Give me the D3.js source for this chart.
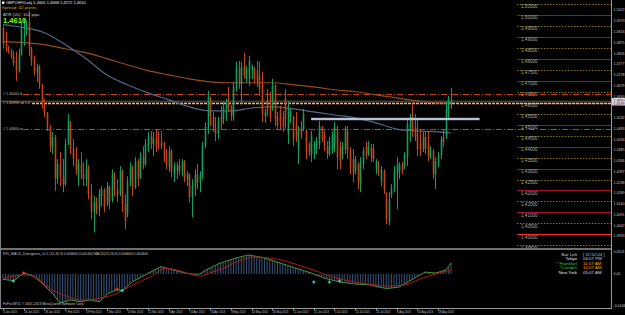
<!DOCTYPE html>
<html>
<head>
<meta charset="utf-8">
<script src="https://cdn.jsdelivr.net/npm/d3@7/dist/d3.min.js"></script>
<style>
  body { margin: 0; background: #000; }
  svg { display: block; }
  text { font-family: "Liberation Sans", Arial, sans-serif; }
</style>
</head>
<body>
<div id="chart"></div>
<script>
// GBPCHF daily bars from 4 Jan 2013
const barOpen = [
  1.4938,1.4869,1.4846,1.4833,1.4814,1.4791,1.4746,1.4823,1.4938,1.4947,
  1.4965,1.4846,1.4791,1.4737,1.4764,1.4681,1.4599,1.4553,1.4489,1.4398,
  1.4444,1.4252,1.4320,1.4261,1.4229,1.4412,1.4503,1.4389,1.4343,1.4261,
  1.4320,1.4274,1.4252,1.4297,1.4183,1.4101,1.4146,1.4114,1.4174,1.4206,
  1.4137,1.4215,1.4160,1.4274,1.4206,1.4183,1.4288,1.4137,1.4091,1.4242,
  1.4306,1.4215,1.4334,1.4261,1.4352,1.4320,1.4398,1.4448,1.4412,1.4444,
  1.4435,1.4421,1.4412,1.4352,1.4306,1.4380,1.4274,1.4288,1.4315,1.4288,
  1.4329,1.4252,1.4274,1.4169,1.4215,1.4274,1.4238,1.4270,1.4407,1.4480,
  1.4622,1.4535,1.4489,1.4457,1.4535,1.4526,1.4572,1.4618,1.4581,1.4535,
  1.4663,1.4755,1.4686,1.4773,1.4709,1.4709,1.4746,1.4755,1.4746,1.4718,
  1.4686,1.4535,1.4618,1.4572,1.4572,1.4677,1.4535,1.4563,1.4535,1.4618,
  1.4457,1.4535,1.4535,1.4503,1.4389,1.4480,1.4480,1.4471,1.4412,1.4366,
  1.4366,1.4389,1.4412,1.4489,1.4444,1.4398,1.4366,1.4389,1.4398,1.4480,
  1.4398,1.4366,1.4389,1.4471,1.4380,1.4343,1.4288,1.4320,1.4229,1.4320,
  1.4398,1.4366,1.4398,1.4389,1.4297,1.4320,1.4242,1.4288,1.4174,1.4059,
  1.4178,1.4206,1.4274,1.4288,1.4320,1.4306,1.4352,1.4489,1.4549,1.4489,
  1.4457,1.4412,1.4389,1.4444,1.4412,1.4352,1.4380,1.4274,1.4320,1.4361,
  1.4444,1.4448,1.4563,1.4600
];
const barHigh = [
  1.4951,1.4924,1.4860,1.4846,1.4837,1.4833,1.4846,1.4970,1.4984,1.4974,
  1.5020,1.4855,1.4814,1.4778,1.4773,1.4686,1.4618,1.4558,1.4499,1.4467,
  1.4453,1.4343,1.4375,1.4343,1.4435,1.4549,1.4517,1.4435,1.4398,1.4343,
  1.4375,1.4329,1.4343,1.4315,1.4229,1.4174,1.4169,1.4206,1.4220,1.4211,
  1.4238,1.4224,1.4297,1.4284,1.4252,1.4311,1.4297,1.4183,1.4265,1.4329,
  1.4315,1.4352,1.4343,1.4375,1.4402,1.4435,1.4467,1.4471,1.4467,1.4480,
  1.4471,1.4471,1.4421,1.4389,1.4402,1.4389,1.4329,1.4329,1.4343,1.4343,
  1.4338,1.4288,1.4279,1.4252,1.4297,1.4320,1.4288,1.4421,1.4512,1.4654,
  1.4627,1.4558,1.4535,1.4535,1.4585,1.4604,1.4618,1.4672,1.4590,1.4695,
  1.4787,1.4791,1.4787,1.4828,1.4768,1.4814,1.4773,1.4764,1.4791,1.4787,
  1.4741,1.4572,1.4663,1.4650,1.4709,1.4686,1.4558,1.4585,1.4563,1.4663,
  1.4608,1.4572,1.4540,1.4558,1.4494,1.4517,1.4572,1.4480,1.4421,1.4471,
  1.4425,1.4444,1.4517,1.4494,1.4471,1.4425,1.4444,1.4471,1.4512,1.4494,
  1.4425,1.4421,1.4494,1.4494,1.4398,1.4389,1.4357,1.4329,1.4352,1.4398,
  1.4421,1.4425,1.4412,1.4412,1.4343,1.4334,1.4311,1.4297,1.4192,1.4192,
  1.4229,1.4311,1.4352,1.4329,1.4329,1.4375,1.4526,1.4549,1.4595,1.4549,
  1.4526,1.4480,1.4467,1.4467,1.4467,1.4402,1.4389,1.4352,1.4375,1.4448,
  1.4480,1.4604,1.4631,1.4668
];
const barLow = [
  1.4846,1.4833,1.4823,1.4801,1.4768,1.4700,1.4737,1.4814,1.4860,1.4906,
  1.4814,1.4768,1.4723,1.4695,1.4663,1.4572,1.4535,1.4471,1.4375,1.4366,
  1.4197,1.4229,1.4220,1.4192,1.4220,1.4407,1.4366,1.4311,1.4274,1.4220,
  1.4252,1.4220,1.4220,1.4160,1.4069,1.4009,1.4091,1.4082,1.4128,1.4101,
  1.4128,1.4114,1.4146,1.4174,1.4146,1.4174,1.4101,1.4023,1.4078,1.4220,
  1.4174,1.4206,1.4220,1.4252,1.4297,1.4311,1.4375,1.4389,1.4357,1.4375,
  1.4389,1.4389,1.4329,1.4297,1.4284,1.4261,1.4238,1.4252,1.4270,1.4265,
  1.4238,1.4220,1.4146,1.4078,1.4174,1.4206,1.4192,1.4252,1.4393,1.4457,
  1.4494,1.4467,1.4425,1.4435,1.4480,1.4503,1.4517,1.4558,1.4517,1.4517,
  1.4650,1.4663,1.4595,1.4709,1.4691,1.4677,1.4709,1.4686,1.4672,1.4631,
  1.4512,1.4508,1.4540,1.4512,1.4563,1.4494,1.4480,1.4480,1.4467,1.4480,
  1.4412,1.4508,1.4402,1.4421,1.4320,1.4435,1.4471,1.4343,1.4357,1.4329,
  1.4343,1.4366,1.4389,1.4421,1.4380,1.4343,1.4357,1.4366,1.4375,1.4297,
  1.4297,1.4343,1.4366,1.4343,1.4274,1.4238,1.4274,1.4206,1.4192,1.4297,
  1.4343,1.4357,1.4329,1.4329,1.4274,1.4265,1.4220,1.4183,1.4046,1.4041,
  1.4165,1.4192,1.4114,1.4252,1.4274,1.4297,1.4311,1.4421,1.4444,1.4425,
  1.4357,1.4357,1.4375,1.4366,1.4334,1.4343,1.4252,1.4206,1.4306,1.4343,
  1.4398,1.4435,1.4526,1.4572
];
const barClose = [
  1.4869,1.4846,1.4833,1.4814,1.4782,1.4746,1.4823,1.4938,1.4961,1.4965,
  1.4846,1.4791,1.4737,1.4764,1.4681,1.4599,1.4553,1.4489,1.4398,1.4444,
  1.4252,1.4320,1.4261,1.4229,1.4412,1.4517,1.4389,1.4343,1.4297,1.4320,
  1.4274,1.4252,1.4306,1.4183,1.4101,1.4146,1.4114,1.4183,1.4206,1.4124,
  1.4220,1.4146,1.4274,1.4206,1.4174,1.4288,1.4137,1.4059,1.4242,1.4306,
  1.4215,1.4334,1.4252,1.4352,1.4320,1.4412,1.4448,1.4412,1.4435,1.4398,
  1.4412,1.4402,1.4352,1.4320,1.4380,1.4288,1.4311,1.4315,1.4288,1.4329,
  1.4261,1.4274,1.4169,1.4224,1.4274,1.4238,1.4270,1.4398,1.4489,1.4631,
  1.4535,1.4489,1.4457,1.4517,1.4508,1.4581,1.4599,1.4581,1.4540,1.4672,
  1.4764,1.4686,1.4764,1.4727,1.4755,1.4791,1.4764,1.4709,1.4700,1.4663,
  1.4549,1.4558,1.4563,1.4535,1.4681,1.4526,1.4498,1.4517,1.4489,1.4526,
  1.4572,1.4558,1.4435,1.4448,1.4471,1.4453,1.4549,1.4380,1.4375,1.4448,
  1.4412,1.4425,1.4494,1.4435,1.4398,1.4366,1.4425,1.4453,1.4489,1.4352,
  1.4334,1.4402,1.4471,1.4380,1.4306,1.4274,1.4343,1.4242,1.4329,1.4380,
  1.4361,1.4407,1.4352,1.4343,1.4329,1.4279,1.4297,1.4206,1.4069,1.4160,
  1.4211,1.4288,1.4320,1.4315,1.4288,1.4361,1.4503,1.4535,1.4480,1.4448,
  1.4389,1.4380,1.4444,1.4389,1.4357,1.4389,1.4274,1.4334,1.4361,1.4435,
  1.4421,1.4572,1.4618,1.4610
];

// time axis labels, one every 8 bars
const dateLabels = ['4 Jan 2013','16 Jan 2013','28 Jan 2013','7 Feb 2013','19 Feb 2013','1 Mar 2013',
  '13 Mar 2013','25 Mar 2013','4 Apr 2013','16 Apr 2013','26 Apr 2013','8 May 2013','20 May 2013',
  '30 May 2013','11 Jun 2013','21 Jun 2013','3 Jul 2013','15 Jul 2013','25 Jul 2013','6 Aug 2013',
  '16 Aug 2013','28 Aug 2013'];
const dateLabelStep = 8;

// moving averages, read at these bar indices
const maIndex = [0,8,16,24,32,40,48,56,64,72,80,88,96,104,112,120,128,136,144,152,160,168,173];
const maFast = [1.4956,1.4942,1.4919,1.4865,1.4801,1.4727,1.4682,1.4645,1.4613,1.4581,1.4563,1.4563,
  1.4576,1.4581,1.4572,1.4558,1.4544,1.4531,1.4508,1.4480,1.4471,1.4467,1.4462];
const maSlow = [1.4878,1.4874,1.4865,1.4846,1.4828,1.4801,1.4773,1.4746,1.4727,1.4709,1.4695,1.4691,
  1.4691,1.4691,1.4682,1.4672,1.4659,1.4650,1.4636,1.4622,1.4608,1.4599,1.4599];

// horizontal objects
const pivotPrices = [1.4640, 1.4599, 1.4480];
const pivotNames = ['# 1.46400 d', '# 1.45990 sd 1.4', '# 1.44800 w'];
const trendPrice = 1.4526;
const trendBars = [119, 184];
const roundLevels = [1.5050,1.5000,1.4950,1.4900,1.4850,1.4800,1.4750,1.4700,1.4650,1.4600,1.4550,
  1.4500,1.4450,1.4400,1.4350,1.4300,1.4250,1.4200,1.4150,1.4100,1.4050,1.4000,1.3950];
const axisTicks = [1.5022,1.4973,1.4924,1.4875,1.4826,1.4777,1.4728,1.4679,1.4630,1.4581,1.4532,
  1.4483,1.4434,1.4385,1.4336,1.4287,1.4238,1.4189,1.4140,1.4091,1.4042,1.3993];

// MACD window
const macdMain = [
  -0.0032,-0.0034,-0.0036,-0.0038,-0.0040,-0.0030,-0.0018,-0.0006,0.0006,0.0002,
  -0.0004,-0.0010,-0.0016,-0.0028,-0.0042,-0.0054,-0.0070,-0.0085,-0.0100,-0.0114,
  -0.0134,-0.0154,-0.0174,-0.0170,-0.0165,-0.0160,-0.0156,-0.0158,-0.0161,-0.0164,
  -0.0166,-0.0164,-0.0161,-0.0158,-0.0156,-0.0160,-0.0163,-0.0166,-0.0155,-0.0140,
  -0.0126,-0.0114,-0.0108,-0.0102,-0.0096,-0.0098,-0.0100,-0.0088,-0.0074,-0.0060,
  -0.0046,-0.0038,-0.0030,-0.0022,-0.0014,-0.0005,0.0004,0.0012,0.0020,0.0028,
  0.0036,0.0044,0.0040,0.0036,0.0032,0.0028,0.0024,0.0020,0.0016,0.0012,
  0.0008,0.0004,0.0002,0.0000,-0.0002,-0.0001,0.0000,0.0010,0.0020,0.0030,
  0.0036,0.0044,0.0052,0.0060,0.0066,0.0071,0.0076,0.0081,0.0086,0.0091,
  0.0096,0.0100,0.0104,0.0108,0.0111,0.0114,0.0111,0.0108,0.0105,0.0102,
  0.0099,0.0096,0.0091,0.0086,0.0081,0.0076,0.0071,0.0066,0.0061,0.0056,
  0.0051,0.0046,0.0041,0.0036,0.0031,0.0026,0.0021,0.0016,0.0011,0.0006,
  0.0000,-0.0006,-0.0012,-0.0018,-0.0024,-0.0028,-0.0032,-0.0036,-0.0040,-0.0044,
  -0.0048,-0.0050,-0.0052,-0.0054,-0.0056,-0.0058,-0.0060,-0.0061,-0.0062,-0.0063,
  -0.0064,-0.0065,-0.0066,-0.0070,-0.0074,-0.0078,-0.0081,-0.0084,-0.0086,-0.0086,
  -0.0084,-0.0082,-0.0080,-0.0078,-0.0069,-0.0060,-0.0051,-0.0042,-0.0033,-0.0024,
  -0.0015,-0.0006,0.0003,0.0012,0.0010,0.0008,0.0007,0.0006,0.0010,0.0015,
  0.0020,0.0024,0.0044,0.0066
];
const signalIndex = [0,8,12,18,25,30,37,44,50,57,63,68,76,80,86,91,97,103,109,115,121,126,132,138,144,149,155,161,167,173];
const signalValues = [-0.0026,-0.0006,-0.0016,-0.0086,-0.0136,-0.0156,-0.0146,-0.0116,-0.0066,-0.0016,0.0034,0.0020,
  -0.0012,0.0006,0.0042,0.0078,0.0102,0.0096,0.0078,0.0048,0.0018,-0.0012,-0.0036,-0.0054,-0.0066,-0.0072,-0.0066,-0.0030,0.0000,0.0024];
const upMarkIndex = [4, 46, 120, 126, 130];
const upMarkValue = [-0.0042, -0.0100, -0.0048, -0.0048, -0.0042];
const downMarkIndex = [8, 44];
const downMarkValue = [0.0006, -0.0090];
const indTickValues = [0.0144, 0, -0.0204];
const indTickLabels = ['0.0153', '0.00', '-0.0146'];

// clock panel
const clockNames = ['Bar Left', 'Tokyo', '* Frankfurt', '* London', 'New York'];
const clockTimes = ['[ 11:52:04 ]', '06:07 PM', '11:07 AM', '10:07 AM', '05:07 AM'];
const clockNameColors = ['#d8d8d8', '#e8e8e8', '#32cd32', '#32cd32', '#e8e8e8'];
const clockTimeColors = ['#87ceeb', '#a8d8f0', '#ffa500', '#ffa500', '#d8d8d8'];


class CandleChart {

  constructor(_config) {
    this.config = {
      parentElement: _config.parentElement,
      containerWidth: _config.containerWidth || 625,
      containerHeight: _config.containerHeight || 315,
      plotRight: 611,
      mainBottom: 248,
      indTop: 251,
      indBottom: 307
    };
    this.initVis();
  }

  initVis() {
    let vis = this;
    const c = vis.config;

    vis.svg = d3.select(c.parentElement).append('svg')
        .attr('width', c.containerWidth)
        .attr('height', c.containerHeight);

    vis.svg.append('rect')
        .attr('width', c.containerWidth)
        .attr('height', c.containerHeight)
        .attr('fill', '#000');

    const defs = vis.svg.append('defs');
    defs.append('clipPath').attr('id', 'clipMain')
      .append('rect').attr('x', 1).attr('y', 0).attr('width', c.plotRight - 1).attr('height', c.mainBottom);
    defs.append('clipPath').attr('id', 'clipInd')
      .append('rect').attr('x', 1).attr('y', c.indTop).attr('width', c.plotRight - 1).attr('height', c.indBottom - c.indTop);

    vis.x = d3.scaleLinear().domain([0, barClose.length - 1]).range([3, 451]);
    vis.y = d3.scaleLinear().domain([1.3938, 1.5068]).range([c.mainBottom, 0]);
    vis.yInd = d3.scaleLinear().domain([-0.0204, 0.0144]).range([308, 250]);

    vis.main = vis.svg.append('g').attr('clip-path', 'url(#clipMain)');
    vis.ind = vis.svg.append('g').attr('clip-path', 'url(#clipInd)');

    vis.drawLevels();
    vis.drawPivots();
    vis.drawAverages();
    vis.drawCandles();
    vis.drawIndicator();
    vis.drawFrame();
    vis.drawTexts();
  }

  drawLevels() {
    let vis = this;
    const isRound = d => Math.abs(d * 100 - Math.round(d * 100)) < 1e-6;
    const yy = d => Math.round(vis.y(d)) + 0.5;

    vis.main.selectAll('.level').data(roundLevels).join('line')
        .attr('class', 'level')
        .attr('x1', 517).attr('x2', vis.config.plotRight)
        .attr('y1', yy).attr('y2', yy)
        .attr('stroke', d => Math.abs(d - 1.40) < 1e-6 ? '#ff2a2a' : isRound(d) ? '#a3102e' : '#8a7414')
        .attr('stroke-dasharray', d => isRound(d) ? null : '1.5,1.5');

    vis.main.selectAll('.level-label').data(roundLevels).join('text')
        .attr('class', 'level-label')
        .attr('x', 521)
        .attr('y', d => vis.y(d) + 4.2)
        .attr('font-size', 4.6)
        .attr('fill', '#a8a8a8')
        .text(d => d.toFixed(5));
  }

  drawPivots() {
    let vis = this;
    const c = vis.config;
    const yy = d => Math.round(vis.y(d)) + 0.5;

    // bid line
    const last = barClose[barClose.length - 1];
    vis.main.append('line')
        .attr('x1', 0).attr('x2', c.plotRight)
        .attr('y1', yy(last)).attr('y2', yy(last))
        .attr('stroke', '#3c3c3c').attr('stroke-width', 2);

    const starts = [23, 32, 23];
    vis.main.selectAll('.pivot').data(pivotPrices).join('line')
        .attr('class', 'pivot')
        .attr('x1', (d, i) => starts[i]).attr('x2', c.plotRight)
        .attr('y1', yy).attr('y2', yy)
        .attr('stroke', (d, i) => i === 1 ? '#f6b070' : '#c8401a')
        .attr('stroke-width', (d, i) => i === 1 ? 1.3 : 1)
        .attr('stroke-dasharray', (d, i) => i === 1 ? '3,1' : '6,2,1,2');

    vis.main.selectAll('.pivot-label').data(pivotPrices).join('text')
        .attr('class', 'pivot-label')
        .attr('x', 3)
        .attr('y', d => vis.y(d) + 1)
        .attr('font-size', 3.6)
        .attr('fill', (d, i) => i === 1 ? '#f6b070' : '#bbbbbb')
        .text((d, i) => pivotNames[i]);
  }

  drawAverages() {
    let vis = this;
    const line = d3.line()
        .x(d => vis.x(d[0]))
        .y(d => vis.y(d[1]))
        .curve(d3.curveMonotoneX);

    vis.main.append('path')
        .datum(maIndex.map((d, i) => [d, maSlow[i]]))
        .attr('d', line)
        .attr('fill', 'none')
        .attr('stroke', '#9a4a1c')
        .attr('stroke-width', 1.2);

    vis.main.append('path')
        .datum(maIndex.map((d, i) => [d, maFast[i]]))
        .attr('d', line)
        .attr('fill', 'none')
        .attr('stroke', '#50688a')
        .attr('stroke-width', 1.2);
  }

  drawCandles() {
    let vis = this;
    const bars = barClose.map((d, i) => ({ i, o: barOpen[i], h: barHigh[i], l: barLow[i], c: d }));
    const col = d => d.c >= d.o ? '#0fa060' : '#c2461a';

    const g = vis.main.append('g');
    g.selectAll('.wick').data(bars).join('line')
        .attr('class', 'wick')
        .attr('x1', d => Math.round(vis.x(d.i)) + 0.5)
        .attr('x2', d => Math.round(vis.x(d.i)) + 0.5)
        .attr('y1', d => vis.y(d.h))
        .attr('y2', d => vis.y(d.l))
        .attr('stroke', col)
        .attr('stroke-width', 1);

    g.selectAll('.body').data(bars).join('rect')
        .attr('class', 'body')
        .attr('x', d => Math.round(vis.x(d.i)) - 0.3)
        .attr('width', 1.6)
        .attr('y', d => vis.y(Math.max(d.o, d.c)))
        .attr('height', d => Math.max(0.8, Math.abs(vis.y(d.o) - vis.y(d.c))))
        .attr('fill', col);

    // horizontal trend line
    vis.main.append('line')
        .attr('x1', vis.x(trendBars[0])).attr('x2', vis.x(trendBars[1]))
        .attr('y1', vis.y(trendPrice)).attr('y2', vis.y(trendPrice))
        .attr('stroke', '#8fa0b8').attr('stroke-width', 2.6);
    vis.main.append('line')
        .attr('x1', vis.x(trendBars[0])).attr('x2', vis.x(trendBars[1]))
        .attr('y1', vis.y(trendPrice)).attr('y2', vis.y(trendPrice))
        .attr('stroke', '#dfe6ee').attr('stroke-width', 1.1);
  }

  drawIndicator() {
    let vis = this;
    const y0 = vis.yInd(0);

    vis.ind.selectAll('.hist').data(macdMain).join('line')
        .attr('class', 'hist')
        .attr('x1', (d, i) => vis.x(i))
        .attr('x2', (d, i) => vis.x(i))
        .attr('y1', y0)
        .attr('y2', d => vis.yInd(d))
        .attr('stroke', '#46699a')
        .attr('stroke-width', 0.8);

    vis.ind.append('path')
        .datum(macdMain)
        .attr('d', d3.line().x((d, i) => vis.x(i)).y(d => vis.yInd(d)))
        .attr('fill', 'none')
        .attr('stroke', '#4f9a2a')
        .attr('stroke-width', 1);

    vis.ind.append('path')
        .datum(signalIndex.map((d, i) => [d, signalValues[i]]))
        .attr('d', d3.line().x(d => vis.x(d[0])).y(d => vis.yInd(d[1])).curve(d3.curveMonotoneX))
        .attr('fill', 'none')
        .attr('stroke', '#b8141e')
        .attr('stroke-width', 1);

    const cross = (sel, idx, vals, color) => {
      sel.selectAll(null).data(idx).join('path')
          .attr('d', (d, i) => {
            const px = vis.x(d), py = vis.yInd(vals[i]);
            return `M${px - 1.6},${py}H${px + 1.6}M${px},${py - 1.6}V${py + 1.6}`;
          })
          .attr('stroke', color)
          .attr('stroke-width', 1);
    };
    cross(vis.ind, upMarkIndex, upMarkValue, '#22f0e0');
    cross(vis.ind, downMarkIndex, downMarkValue, '#ff3a2a');
  }

  drawFrame() {
    let vis = this;
    const c = vis.config;

    vis.svg.append('rect').attr('x', 0).attr('y', c.mainBottom).attr('width', c.plotRight).attr('height', 2).attr('fill', '#707070');
    vis.svg.append('line').attr('x1', 0.5).attr('x2', 0.5).attr('y1', 0).attr('y2', 309).attr('stroke', '#808080');
    vis.svg.append('line').attr('x1', c.plotRight + 0.5).attr('x2', c.plotRight + 0.5).attr('y1', 0).attr('y2', 309).attr('stroke', '#9a9a9a');
    vis.svg.append('line').attr('x1', 0).attr('x2', c.plotRight).attr('y1', 308.5).attr('y2', 308.5).attr('stroke', '#9a9a9a');

    const last = barClose[barClose.length - 1];
    const taken = [vis.y(last), vis.y(pivotPrices[1])];

    // price axis
    vis.svg.selectAll('.ptick').data(axisTicks.filter(d => taken.every(t => Math.abs(vis.y(d) - t) > 4)))
      .join('text')
        .attr('class', 'ptick')
        .attr('x', 613.5)
        .attr('y', d => vis.y(d) + 1.4)
        .attr('font-size', 3.6)
        .attr('fill', '#c8c8c8')
        .text(d => d.toFixed(4));

    vis.svg.append('rect').attr('x', 612).attr('y', vis.y(last) - 2.6).attr('width', 13).attr('height', 4.6).attr('fill', '#d8d8d8');
    vis.svg.append('text').attr('x', 613.5).attr('y', vis.y(last) + 1.2).attr('font-size', 3.6).attr('fill', '#000').text(last.toFixed(4));
    vis.svg.append('rect').attr('x', 612).attr('y', vis.y(pivotPrices[1]) - 1.6).attr('width', 13).attr('height', 4.2).attr('fill', '#ecc6e0');
    vis.svg.append('text').attr('x', 613.5).attr('y', vis.y(pivotPrices[1]) + 1.8).attr('font-size', 3.6).attr('fill', '#333').text(pivotPrices[1].toFixed(4));

    // indicator axis
    vis.svg.selectAll('.itick').data(indTickValues).join('text')
        .attr('class', 'itick')
        .attr('x', 613.5)
        .attr('y', d => Math.min(307, Math.max(253, vis.yInd(d) + 1.4)))
        .attr('font-size', 3.5)
        .attr('fill', '#c8c8c8')
        .text((d, i) => indTickLabels[i]);

    // time axis
    const ticks = dateLabels.map((d, i) => ({ label: d, i: i * dateLabelStep }));
    vis.svg.selectAll('.ttick').data(ticks).join('line')
        .attr('class', 'ttick')
        .attr('x1', d => Math.round(vis.x(d.i)) + 0.5).attr('x2', d => Math.round(vis.x(d.i)) + 0.5)
        .attr('y1', 308.5).attr('y2', 310.5)
        .attr('stroke', '#9a9a9a');
    vis.svg.selectAll('.tlabel').data(ticks).join('text')
        .attr('class', 'tlabel')
        .attr('x', d => vis.x(d.i) + 0.5)
        .attr('y', 313.4)
        .attr('font-size', 2.7)
        .attr('fill', '#c8c8c8')
        .text(d => d.label);
  }

  drawTexts() {
    let vis = this;
    const n = barClose.length - 1;

    vis.svg.append('rect').attr('x', 2).attr('y', 1.5).attr('width', 2.4).attr('height', 2.4).attr('fill', '#fff');
    vis.svg.append('text').attr('x', 6).attr('y', 4.3).attr('font-size', 4).attr('fill', '#e8e8e8')
        .text(`GBPCHF,Daily  ${barOpen[n].toFixed(4)} ${barHigh[n].toFixed(4)} ${barLow[n].toFixed(4)} ${barClose[n].toFixed(4)}`);
    vis.svg.append('text').attr('x', 2).attr('y', 9.2).attr('font-size', 4.4).attr('fill', '#daa520').text('Spread: 42 points');
    vis.svg.append('text').attr('x', 3).attr('y', 15.8).attr('font-size', 4.4).attr('fill', '#c8c8c8').text('ATR (20): 102 pips');
    vis.svg.append('text').attr('x', 3).attr('y', 23).attr('font-size', 7.6).attr('font-weight', 'bold').attr('fill', '#7cfc00')
        .text(barClose[n].toFixed(4));

    vis.svg.append('text').attr('x', 3).attr('y', 254.8).attr('font-size', 3.4).attr('fill', '#c8c8c8')
        .text(`FX5_MACD_Divergence_v1.1 (12,26,9) ${macdMain[n].toFixed(6)} ${signalValues[signalValues.length - 1].toFixed(6)}   MACD(12,26,9) ${macdMain[n].toFixed(6)} ${signalValues[signalValues.length - 1].toFixed(6)}`);
    vis.svg.append('text').attr('x', 3).attr('y', 304.5).attr('font-size', 3.4).attr('fill', '#c8c8c8')
        .text('FxPro MT4, \u00a9 2001-2013 MetaQuotes Software Corp.');

    const rows = [254.5, 258.9, 263.3, 267.7, 272.1];
    vis.svg.selectAll('.clock-name').data(clockNames).join('text')
        .attr('class', 'clock-name')
        .attr('x', 577).attr('y', (d, i) => rows[i] + 1.5)
        .attr('text-anchor', 'end')
        .attr('font-size', 4.4)
        .attr('fill', (d, i) => clockNameColors[i])
        .text(d => d);
    vis.svg.selectAll('.clock-time').data(clockTimes).join('text')
        .attr('class', 'clock-time')
        .attr('x', 583).attr('y', (d, i) => rows[i] + 1.5)
        .attr('font-size', 4.4)
        .attr('fill', (d, i) => clockTimeColors[i])
        .text(d => d);
  }
}

new CandleChart({ parentElement: '#chart' });
</script>
</body>
</html>
